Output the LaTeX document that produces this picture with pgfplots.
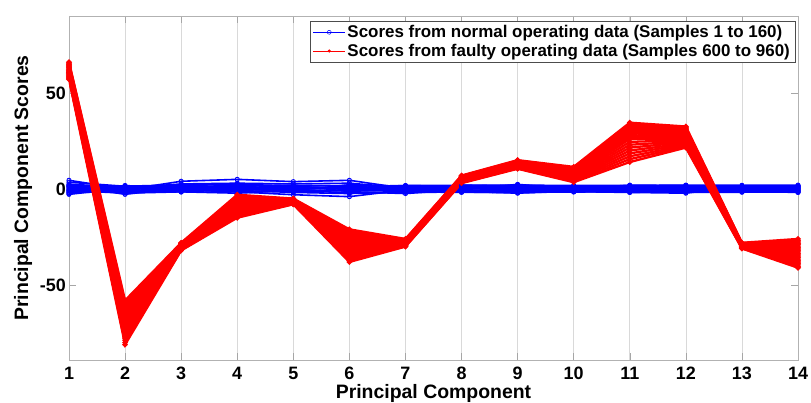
\documentclass[border=0pt]{standalone}
\usepackage{pgfplots}
\pgfplotsset{compat=1.18}
\usepackage{pgfplotstable}
\usepackage{fontspec}
\setmainfont{Liberation Sans}

% Principal component scores, one column per sample (faulty operation)
\pgfplotstableread{
pc r0 r1 r2 r3 r4 r5 r6 r7 r8 r9 r10 r11 r12 r13 r14 r15 r16 r17 r18 r19 r20
1 57.0 57.5 57.9 58.4 58.8 59.3 59.7 60.2 60.6 61.1 61.5 62.0 62.4 62.9 63.3 63.8 64.2 64.7 65.1 65.6 66.0
2 -81.0 -79.9 -78.7 -77.6 -76.4 -75.3 -74.1 -73.0 -71.8 -70.7 -69.5 -68.4 -67.2 -66.1 -64.9 -63.8 -62.6 -61.5 -60.3 -59.2 -58.0
3 -32.0 -31.8 -31.6 -31.4 -31.2 -31.0 -30.8 -30.6 -30.4 -30.2 -30.0 -29.8 -29.6 -29.4 -29.2 -29.0 -28.8 -28.6 -28.4 -28.2 -28.0
4 -15.0 -14.4 -13.8 -13.2 -12.6 -12.0 -11.4 -10.8 -10.2 -9.6 -9.0 -8.4 -7.8 -7.2 -6.6 -6.0 -5.4 -4.8 -4.2 -3.6 -3.0
5 -8.0 -7.85 -7.7 -7.55 -7.4 -7.25 -7.1 -6.95 -6.8 -6.65 -6.5 -6.35 -6.2 -6.05 -5.9 -5.75 -5.6 -5.45 -5.3 -5.15 -5.0
6 -38.0 -37.2 -36.3 -35.5 -34.6 -33.8 -32.9 -32.1 -31.2 -30.4 -29.5 -28.7 -27.8 -27.0 -26.1 -25.3 -24.4 -23.6 -22.7 -21.9 -21.0
7 -30.0 -29.8 -29.6 -29.4 -29.2 -29.0 -28.8 -28.6 -28.4 -28.2 -28.0 -27.8 -27.6 -27.4 -27.2 -27.0 -26.8 -26.6 -26.4 -26.2 -26.0
8 3.0 3.2 3.4 3.6 3.8 4.0 4.2 4.4 4.6 4.8 5.0 5.2 5.4 5.6 5.8 6.0 6.2 6.4 6.6 6.8 7.0
9 10.5 10.7 10.9 11.2 11.4 11.6 11.9 12.1 12.3 12.5 12.8 13.0 13.2 13.4 13.7 13.9 14.1 14.3 14.6 14.8 15.0
10 3.5 3.9 4.3 4.7 5.1 5.5 5.9 6.3 6.7 7.1 7.5 7.9 8.3 8.7 9.1 9.5 9.9 10.3 10.7 11.1 11.5
11 14.0 15.5 17.0 18.5 20.0 21.5 23.0 24.5 26.0 27.0 28.0 29.0 29.5 30.0 30.5 31.0 31.5 32.0 32.5 33.5 34.5
12 21.5 22.1 22.6 23.2 23.7 24.3 24.8 25.4 25.9 26.5 27.0 27.6 28.1 28.7 29.2 29.8 30.3 30.9 31.4 32.0 32.5
13 -31.0 -30.85 -30.7 -30.55 -30.4 -30.25 -30.1 -29.95 -29.8 -29.65 -29.5 -29.35 -29.2 -29.05 -28.9 -28.75 -28.6 -28.45 -28.3 -28.15 -28.0
14 -41.0 -40.25 -39.5 -38.75 -38.0 -37.25 -36.5 -35.75 -35.0 -34.25 -33.5 -32.75 -32.0 -31.25 -30.5 -29.75 -29.0 -28.25 -27.5 -26.75 -26.0
}\redscores

% Principal component scores, one column per sample (normal operation)
\pgfplotstableread{
pc b1 b2 b3 b4 b5 b6 b7 b8 b9 b10 b11 b12 b13 b14 b15 b16 b17 b18
1 2.5 -1.8 0.5 3.5 -0.8 1.2 -2.5 4.5 0.0 -1.0 1.8 -2.8 1.5 -1.2 2.0 -0.4 0.9 -2.0
2 0.8 -1.5 0.2 1.4 -2.2 -0.5 0.9 0.0 -1.0 1.8 -2.8 0.4 1.2 -0.8 0.5 -1.8 1.6 -0.2
3 1.5 -0.6 0.9 2.2 -1.5 4.0 -0.2 1.0 0.4 0.0 0.6 -1.0 1.8 -1.2 2.6 -0.4 0.2 -1.6
4 1.2 -1.0 0.3 2.0 -2.2 5.0 0.6 -1.5 0.8 -0.5 1.5 0.0 2.4 -0.8 3.0 -1.6 1.0 0.2
5 0.6 -1.4 -0.3 1.8 -0.8 3.8 0.9 -3.0 1.3 0.3 -0.9 2.0 1.6 -1.8 2.6 -0.4 0.4 -1.2
6 0.4 -0.8 0.8 1.5 -2.0 4.5 -0.1 -4.0 0.0 1.0 2.2 -1.4 1.8 -2.4 3.0 -1.0 0.6 -0.4
7 0.9 -1.2 0.1 1.7 -1.8 0.3 1.0 -0.5 -0.6 -0.8 1.4 -2.4 1.3 -1.5 0.6 -0.2 1.8 -1.0
8 0.7 -0.9 0.5 1.5 -1.6 -0.2 1.2 0.2 2.0 -1.2 1.0 -0.4 1.6 -1.8 0.4 -0.6 1.9 -1.2
9 1.1 -1.3 0.2 1.9 -2.0 0.8 0.4 -0.4 1.5 -2.2 0.5 2.4 1.4 -1.6 0.9 -0.8 2.0 -1.0
10 0.5 -0.7 0.6 1.3 -1.4 0.2 1.0 -0.3 -0.2 -1.0 0.8 0.0 1.6 -1.6 1.0 -0.6 1.8 -1.2
11 0.9 -1.0 0.0 1.6 -1.8 0.6 0.2 -0.6 1.2 -0.4 -1.8 2.0 1.4 -1.4 0.8 -0.9 1.8 -1.3
12 0.6 -1.5 0.4 1.4 -1.2 -0.3 1.1 0.2 -0.8 0.9 -2.2 1.8 1.6 -1.8 0.8 -0.5 2.0 -1.0
13 0.8 -0.9 0.3 1.6 -1.5 0.5 0.0 -0.4 1.0 -0.6 1.4 -1.2 1.5 -1.7 0.9 -0.8 1.9 -1.1
14 1.0 -1.2 0.2 1.5 -1.7 0.0 0.7 -0.5 0.4 -0.3 1.6 -1.8 1.5 -1.5 0.9 -0.9 2.0 -1.0
}\bluescores

\begin{document}
\begin{tikzpicture}
\begin{axis}[
  at={(0,0)}, anchor=south west,
  scale only axis, width=729bp, height=344bp,
  xmin=1, xmax=14, ymin=-89, ymax=90,
  xtick={1,...,14},
  ytick={-50,0,50}, yticklabels={-50,0,50},
  /pgf/number format/assume math mode=true,
  tick align=inside, tick pos=both,
  major tick length=7bp,
  every tick/.style={gray!70, line width=0.5pt},
  axis line style={gray!60, line width=0.7pt},
  xmajorgrids, grid style={gray!30, line width=0.7pt},
  tick label style={font=\fontsize{18}{20}\selectfont\bfseries, inner sep=0pt},
  xticklabel style={yshift=-7bp},
  yticklabel style={xshift=-3bp},
  xlabel={Principal Component},
  ylabel={Principal Component Scores},
  label style={font=\fontsize{19.5}{23}\selectfont\bfseries, inner sep=0pt},
  xlabel style={at={(axis description cs:0.5,-0.113)}, anchor=base},
  ylabel style={at={(axis description cs:-0.0562,0.5)}, anchor=base},
  legend style={at={(rel axis cs:0.996,0.985)}, anchor=north east,
    draw=black!70, line width=0.5pt, fill=white,
    font=\fontsize{17}{19}\selectfont\bfseries,
    inner xsep=3bp, inner ysep=2bp, row sep=1bp,
    cells={anchor=west}},
  legend image code/.code={%
    \draw[mark repeat=2, mark phase=2, #1]
      plot coordinates {(0bp,0bp) (16bp,0bp) (32bp,0bp)};},
]
% normal operating data
\pgfplotsinvokeforeach{1,...,18}{
  \addplot[forget plot, blue, line width=1.6pt, mark=o, mark size=2.1pt,
    mark options={line width=0.9pt}] table[x=pc, y=b#1] {\bluescores};
}
% faulty operating data
\pgfplotsinvokeforeach{0,...,20}{
  \addplot[forget plot, red, line width=2.3pt, mark=*, mark size=1.4pt]
    table[x=pc, y=r#1] {\redscores};
}
\addlegendimage{blue, line width=0.5pt, mark=o, mark size=2pt}
\addlegendentry{Scores from normal operating data (Samples 1 to 160)}
\addlegendimage{red, line width=0.5pt, mark=*, mark size=1.3pt}
\addlegendentry{Scores from faulty operating data (Samples 600 to 960)}
\end{axis}
\pgfresetboundingbox
\path[use as bounding box] (-69bp,-43bp) rectangle (742bp,360bp);
\end{tikzpicture}
\end{document}
